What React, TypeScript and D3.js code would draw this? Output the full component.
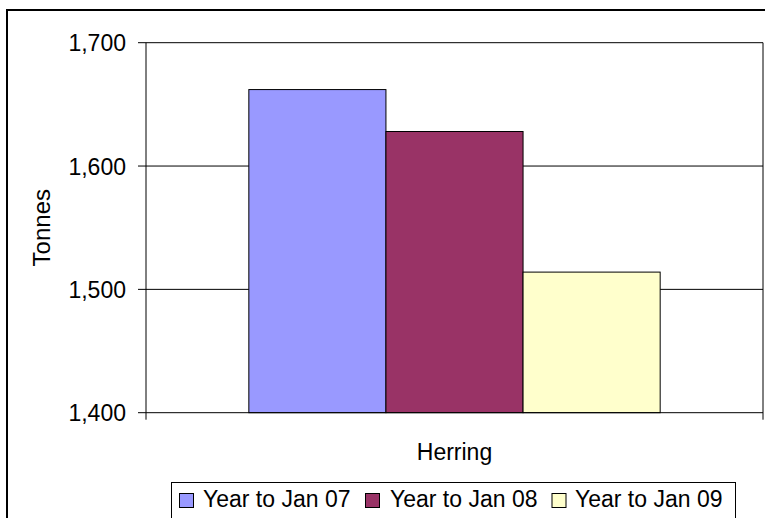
import React from "react";
import * as d3 from "d3";

const categories = ["Herring"];
const seriesNames = ["Year to Jan 07", "Year to Jan 08", "Year to Jan 09"];
const herringValues = [1662, 1628, 1514];
const seriesColors = ["#9999FF", "#993366", "#FFFFCC"];
const yTicks = [1400, 1500, 1600, 1700];

const W = 765;
const H = 518;
const plot = { left: 146, right: 763, top: 42.7, bottom: 412.7 };
const FONT = "'Liberation Sans', Arial, sans-serif";
const FS = 23;

export default function App() {
  const y = d3.scaleLinear().domain([1400, 1700]).range([plot.bottom, plot.top]);
  const x0 = d3.scaleBand<string>().domain(categories).range([plot.left, plot.right]).padding(0);
  const x1 = d3
    .scaleBand<string>()
    .domain(seriesNames)
    .range([0, x0.bandwidth()])
    .paddingInner(0)
    .paddingOuter(0.75);
  const fmt = d3.format(",");

  const legendX = [179.5, 365.5, 552];
  const legendTextX = [203, 390, 575];

  return (
    <svg
      width={W}
      height={H}
      style={{ position: "absolute", left: 0, top: 0, background: "#fff" }}
      fontFamily={FONT}
    >
      <rect x={0} y={0} width={W} height={H} fill="#fff" />
      {/* chart frame */}
      <rect x={7} y={10} width={820} height={600} fill="none" stroke="#000" strokeWidth={2} />

      {/* gridlines */}
      {yTicks.slice(1).map((t) => (
        <line key={t} x1={plot.left} x2={plot.right} y1={y(t)} y2={y(t)} stroke="#000" strokeWidth={1} />
      ))}
      {/* right plot border */}
      <line x1={plot.right} x2={plot.right} y1={plot.top} y2={plot.bottom + 7} stroke="#000" strokeWidth={1} />

      {/* bars */}
      {categories.map((c) =>
        seriesNames.map((s, i) => (
          <rect
            key={c + s}
            x={(x0(c) ?? 0) + (x1(s) ?? 0)}
            y={y(herringValues[i])}
            width={x1.bandwidth()}
            height={y(1400) - y(herringValues[i])}
            fill={seriesColors[i]}
            stroke="#000"
            strokeWidth={1}
          />
        ))
      )}

      {/* y axis */}
      <line x1={plot.left} x2={plot.left} y1={plot.top} y2={plot.bottom + 7} stroke="#000" strokeWidth={1} />
      {yTicks.map((t) => (
        <g key={t}>
          <line x1={plot.left - 8} x2={plot.left} y1={y(t)} y2={y(t)} stroke="#000" strokeWidth={1} />
          <text x={126} y={y(t) + 8.5} textAnchor="end" fontSize={FS} fill="#000">
            {fmt(t)}
          </text>
        </g>
      ))}
      <text
        transform={`translate(50, ${(plot.top + plot.bottom) / 2}) rotate(-90)`}
        textAnchor="middle"
        fontSize={24}
        fill="#000"
      >
        Tonnes
      </text>

      {/* x axis */}
      <line x1={plot.left} x2={plot.right} y1={plot.bottom} y2={plot.bottom} stroke="#000" strokeWidth={1} />
      {categories.map((c) => (
        <text
          key={c}
          x={(x0(c) ?? 0) + x0.bandwidth() / 2}
          y={460}
          textAnchor="middle"
          fontSize={FS}
          fill="#000"
        >
          {c}
        </text>
      ))}

      {/* legend */}
      <rect x={171.5} y={482.5} width={564} height={60} fill="#fff" stroke="#000" strokeWidth={1} />
      {seriesNames.map((s, i) => (
        <g key={s}>
          <rect x={legendX[i]} y={493.5} width={14} height={14} fill={seriesColors[i]} stroke="#000" strokeWidth={1} />
          <text x={legendTextX[i]} y={507} fontSize={FS} fill="#000">
            {s}
          </text>
        </g>
      ))}
    </svg>
  );
}
